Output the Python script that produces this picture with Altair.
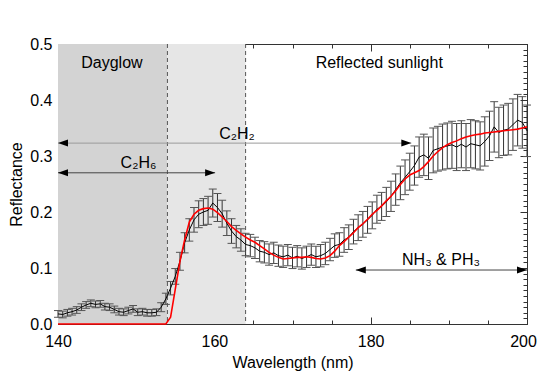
import altair as alt
import pandas as pd

# ---------------- data ----------------
wl = [140.0, 140.6, 141.2, 141.8, 142.4, 143.0, 143.6, 144.2, 144.8, 145.4,
      146.0, 146.6, 147.2, 147.8, 148.4, 149.0, 149.6, 150.2, 150.8, 151.4,
      152.0, 152.6, 153.2, 153.8, 154.4, 155.0, 155.6, 156.2, 156.8, 157.4,
      158.0, 158.6, 159.2, 159.8, 160.4, 161.0, 161.6, 162.2, 162.8, 163.4,
      164.0, 164.6, 165.2, 165.8, 166.4, 167.0, 167.6, 168.2, 168.8, 169.4,
      170.0, 170.6, 171.2, 171.8, 172.4, 173.0, 173.6, 174.2, 174.8, 175.4,
      176.0, 176.6, 177.2, 177.8, 178.4, 179.0, 179.6, 180.2, 180.8, 181.4,
      182.0, 182.6, 183.2, 183.8, 184.4, 185.0, 185.6, 186.2, 186.8, 187.4,
      188.0, 188.6, 189.2, 189.8, 190.4, 191.0, 191.6, 192.2, 192.8, 193.4,
      194.0, 194.6, 195.2, 195.8, 196.4, 197.0, 197.6, 198.2, 198.8, 199.4,
      200.0]

refl = [0.018, 0.017, 0.020, 0.022, 0.025, 0.030, 0.034, 0.037, 0.035, 0.036,
        0.031, 0.030, 0.026, 0.022, 0.021, 0.024, 0.027, 0.021, 0.022, 0.020,
        0.020, 0.021, 0.030, 0.045, 0.064, 0.085, 0.112, 0.145, 0.168, 0.186,
        0.196, 0.200, 0.203, 0.216, 0.208, 0.197, 0.180, 0.166, 0.156, 0.150,
        0.142, 0.140, 0.136, 0.130, 0.128, 0.124, 0.127, 0.122, 0.120, 0.123,
        0.118, 0.121, 0.117, 0.120, 0.124, 0.120, 0.122, 0.126, 0.133, 0.140,
        0.142, 0.150, 0.155, 0.165, 0.172, 0.178, 0.186, 0.194, 0.205, 0.210,
        0.218, 0.228, 0.240, 0.252, 0.262, 0.272, 0.283, 0.298, 0.302, 0.296,
        0.310, 0.313, 0.316, 0.318, 0.320, 0.316, 0.321, 0.316, 0.322, 0.320,
        0.318, 0.326, 0.336, 0.352, 0.342, 0.346, 0.348, 0.356, 0.364, 0.360,
        0.345]

err = [0.006, 0.006, 0.006, 0.006, 0.006, 0.006, 0.006, 0.006, 0.006, 0.006,
       0.006, 0.006, 0.006, 0.006, 0.006, 0.006, 0.006, 0.006, 0.006, 0.006,
       0.006, 0.006, 0.008, 0.010, 0.012, 0.014, 0.016, 0.018, 0.020, 0.022,
       0.024, 0.024, 0.025, 0.025, 0.025, 0.024, 0.022, 0.022, 0.020, 0.020,
       0.020, 0.020, 0.019, 0.019, 0.019, 0.019, 0.019, 0.019, 0.019, 0.019,
       0.019, 0.019, 0.019, 0.019, 0.019, 0.019, 0.020, 0.020, 0.020, 0.021,
       0.021, 0.022, 0.022, 0.022, 0.023, 0.023, 0.024, 0.024, 0.025, 0.025,
       0.026, 0.027, 0.028, 0.030, 0.031, 0.033, 0.035, 0.036, 0.037, 0.038,
       0.040, 0.040, 0.041, 0.041, 0.042, 0.042, 0.042, 0.042, 0.043, 0.043,
       0.043, 0.044, 0.044, 0.045, 0.045, 0.045, 0.046, 0.046, 0.046, 0.046,
       0.046]

model = [0.0, 0.0, 0.0, 0.0, 0.0, 0.0, 0.0, 0.0, 0.0, 0.0,
         0.0, 0.0, 0.0, 0.0, 0.0, 0.0, 0.0, 0.0, 0.0, 0.0,
         0.0, 0.0, 0.0, 0.0, 0.012, 0.062, 0.112, 0.150, 0.182, 0.196,
         0.203, 0.206, 0.207, 0.205, 0.199, 0.191, 0.183, 0.174, 0.167, 0.161,
         0.155, 0.150, 0.146, 0.140, 0.134, 0.128, 0.123, 0.119, 0.116, 0.117,
         0.118, 0.119, 0.119, 0.120, 0.119, 0.117, 0.116, 0.118, 0.122, 0.130,
         0.140, 0.147, 0.155, 0.163, 0.172, 0.179, 0.187, 0.196, 0.203, 0.211,
         0.220, 0.228, 0.238, 0.249, 0.259, 0.266, 0.270, 0.274, 0.281, 0.290,
         0.300, 0.308, 0.315, 0.320, 0.324, 0.327, 0.331, 0.334, 0.336, 0.338,
         0.339, 0.341, 0.342, 0.343, 0.344, 0.345, 0.346, 0.347, 0.348, 0.350,
         0.352]

region_start = [140, 154]
region_end = [154, 164]
region_color = ["#d3d3d3", "#e6e6e6"]
dash_x = [154, 164]

arrow_x1 = [140, 140, 178.1]
arrow_x2 = [185.2, 160.1, 200]
arrow_y = [0.323, 0.27, 0.0964]
arrow_color = ["#9a9a9a", "#444444", "#444444"]

label_text = ["Dayglow", "Reflected sunlight", "C₂H₂", "C₂H₆", "NH₃ & PH₃"]
label_x = [146.9, 181.1, 162.9, 150.3, 189.0]
label_y = [0.466, 0.466, 0.339, 0.2875, 0.114]

x_major = [140, 160, 180, 200]
x_minor = [140 + 5 * i for i in range(13)]
y_major = [0.0, 0.1, 0.2, 0.3, 0.4, 0.5]
y_minor = [round(0.01 * i, 2) for i in range(51)]

# ---------------- tables ----------------
spec = pd.DataFrame({"wl": wl, "refl": refl, "err": err, "model": model})
spec["lo"] = spec["refl"] - spec["err"]
spec["hi"] = spec["refl"] + spec["err"]
regions = pd.DataFrame({"x0": region_start, "x1": region_end, "c": region_color,
                        "y0": [0.0, 0.0], "y1": [0.5, 0.5]})
dashes = pd.DataFrame({"x": dash_x})
arrows = pd.DataFrame({"x1": arrow_x1, "x2": arrow_x2, "y": arrow_y, "c": arrow_color})
labels = pd.DataFrame({"t": label_text, "x": label_x, "y": label_y})

FONT = "Liberation Sans"
xs = alt.Scale(domain=[140, 200], nice=False, zero=False)
ys = alt.Scale(domain=[0, 0.5], nice=False, zero=False)


def tick_axis(orient, values, size):
    return alt.Axis(orient=orient, values=values, tickSize=size, offset=-size,
                    labels=False, domain=False, grid=False, title="",
                    ticks=True, tickColor="#333333", tickWidth=1)


x_label_axis = alt.Axis(orient="bottom", values=x_major, format="d", ticks=False,
                        tickSize=0, domain=False, grid=False, labelPadding=9,
                        labelFlush=False, labelOverlap=False,
                        labelOffset={"condition": {"test": "datum.value == 200", "value": -4},
                                     "value": 0},
                        labelFont=FONT, labelFontSize=16, labelColor="black",
                        title="Wavelength (nm)", titlePadding=5,
                        titleFont=FONT, titleFontSize=16, titleFontWeight="normal",
                        titleColor="black")
y_label_axis = alt.Axis(orient="left", values=y_major, format=".1f", ticks=False,
                        tickSize=0, domain=False, grid=False, labelPadding=6,
                        labelFlush=False, labelOverlap=False,
                        labelFont=FONT, labelFontSize=16, labelColor="black",
                        title="Reflectance", titlePadding=5,
                        titleFont=FONT, titleFontSize=16, titleFontWeight="normal",
                        titleColor="black")

bg = alt.Chart(regions).mark_rect().encode(
    x=alt.X("x0:Q", scale=xs, axis=x_label_axis),
    x2="x1:Q",
    y=alt.Y("y0:Q", scale=ys, axis=y_label_axis),
    y2="y1:Q",
    color=alt.Color("c:N", scale=None),
)

dash = alt.Chart(dashes).mark_rule(color="#555555", strokeDash=[4, 3], strokeWidth=1).encode(
    x=alt.X("x:Q", scale=xs, axis=None)
)

arrow_lines = alt.Chart(arrows).mark_rule(strokeWidth=1).encode(
    x=alt.X("x1:Q", scale=xs, axis=None),
    x2="x2:Q",
    y=alt.Y("y:Q", scale=ys, axis=None),
    color=alt.Color("c:N", scale=None),
)
head_left = alt.Chart(arrows).mark_point(
    shape="M0,0L2,-0.7L2,0.7Z", size=100, filled=True, opacity=1, color="black", strokeWidth=0
).encode(x=alt.X("x1:Q", scale=xs, axis=None), y=alt.Y("y:Q", scale=ys, axis=None))
head_right = alt.Chart(arrows).mark_point(
    shape="M0,0L-2,-0.7L-2,0.7Z", size=100, filled=True, opacity=1, color="black", strokeWidth=0
).encode(x=alt.X("x2:Q", scale=xs, axis=None), y=alt.Y("y:Q", scale=ys, axis=None))

texts = alt.Chart(labels).mark_text(font=FONT, fontSize=16, color="black",
                                    align="center", baseline="middle").encode(
    x=alt.X("x:Q", scale=xs, axis=None),
    y=alt.Y("y:Q", scale=ys, axis=None),
    text="t:N",
)

bars = alt.Chart(spec).mark_rule(color="#333333", strokeWidth=1).encode(
    x=alt.X("wl:Q", scale=xs, axis=tick_axis("bottom", x_major, 7)),
    y=alt.Y("lo:Q", scale=ys, axis=tick_axis("left", y_major, 7)),
    y2="hi:Q",
)
caps_lo = alt.Chart(spec).mark_tick(orient="horizontal", size=8, thickness=1,
                                    color="#555555", opacity=1).encode(
    x=alt.X("wl:Q", scale=xs, axis=tick_axis("bottom", x_minor, 4)),
    y=alt.Y("lo:Q", scale=ys, axis=tick_axis("left", y_minor, 4)),
)
caps_hi = alt.Chart(spec).mark_tick(orient="horizontal", size=8, thickness=1,
                                    color="#555555", opacity=1).encode(
    x=alt.X("wl:Q", scale=xs, axis=tick_axis("top", x_major, 7)),
    y=alt.Y("hi:Q", scale=ys, axis=tick_axis("right", y_major, 7)),
)
obs = alt.Chart(spec).mark_line(color="black", strokeWidth=1).encode(
    x=alt.X("wl:Q", scale=xs, axis=tick_axis("top", x_minor, 4)),
    y=alt.Y("refl:Q", scale=ys, axis=tick_axis("right", y_minor, 4)),
)
fit = alt.Chart(spec).mark_line(color="#ff0000", strokeWidth=1.6).encode(
    x=alt.X("wl:Q", scale=xs, axis=None),
    y=alt.Y("model:Q", scale=ys, axis=None),
)

chart = alt.layer(
    bg, dash, arrow_lines, head_left, head_right, texts, bars, caps_lo, caps_hi, obs, fit
).resolve_axis(
    x="independent", y="independent"
).properties(
    width=469, height=280,
    background="white",
    padding={"left": 50, "top": 36, "right": 10, "bottom": 50},
    autosize=alt.AutoSizeParams(type="none"),
).configure_view(
    stroke="#333333", strokeWidth=1
)

chart.save("out.html", embed_options={"renderer": "svg", "actions": False})
